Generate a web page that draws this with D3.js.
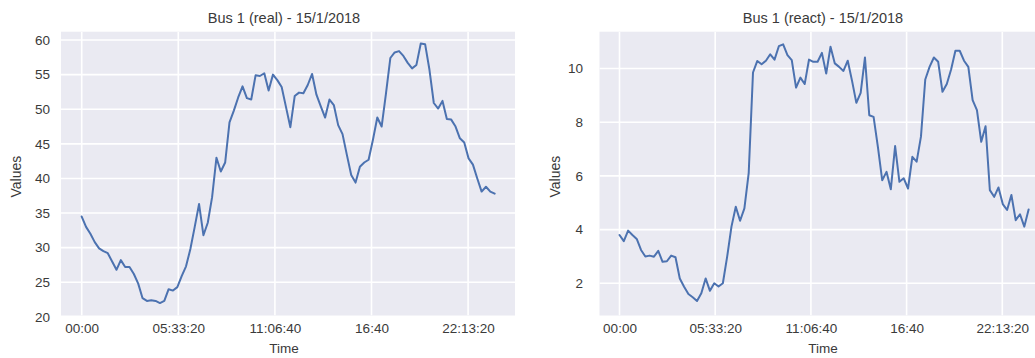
<!DOCTYPE html>
<html>
<head>
<meta charset="utf-8">
<script src="https://cdn.jsdelivr.net/npm/d3@7"></script>
<style>
  html, body { margin: 0; padding: 0; background: #ffffff; }
  svg { display: block; font-family: "Liberation Sans", Arial, sans-serif; }
</style>
</head>
<body>
<svg id="chart" width="1035" height="358"></svg>
<script>
// 15-minute readings over one day (96 samples)
const stepSeconds = 900;
const sampleCount = 96;

// Bus 1 active power
const realValues = [
  34.5, 33.0, 32.0, 30.8, 29.9, 29.5, 29.2, 28.0, 26.8, 28.2, 27.2, 27.2,
  26.2, 24.8, 22.7, 22.3, 22.4, 22.3, 22.0, 22.3, 24.0, 23.8, 24.3, 25.9,
  27.3, 29.8, 33.0, 36.3, 31.8, 33.6, 37.3, 43.0, 41.0, 42.3, 48.1, 49.8,
  51.7, 53.3, 51.6, 51.4, 54.9, 54.8, 55.2, 52.7, 55.0, 54.2, 53.2, 50.3,
  47.4, 51.9, 52.4, 52.3, 53.5, 55.1, 52.1, 50.4, 48.8, 51.4, 50.6, 47.7,
  46.4, 43.4, 40.5, 39.4, 41.7, 42.3, 42.7, 45.6, 48.8, 47.5, 52.3, 57.4,
  58.2, 58.4, 57.7, 56.7, 55.9, 56.4, 59.5, 59.4, 55.7, 50.9, 50.1, 51.2,
  48.6, 48.5, 47.5, 45.8, 45.2, 42.9, 42.0, 40.0, 38.1, 38.8, 38.1, 37.8
];

// Bus 1 reactive power
const reactValues = [
  3.80, 3.57, 3.96, 3.80, 3.65, 3.24, 3.00, 3.03, 2.99, 3.21, 2.80, 2.82,
  3.03, 2.97, 2.18, 1.87, 1.60, 1.48, 1.34, 1.63, 2.18, 1.72, 2.00, 1.88,
  2.00, 2.99, 4.11, 4.85, 4.33, 4.79, 6.10, 9.85, 10.28, 10.16, 10.29, 10.53,
  10.33, 10.83, 10.90, 10.50, 10.31, 9.29, 9.66, 9.42, 10.33, 10.25, 10.25, 10.58,
  9.81, 10.81, 10.19, 10.06, 9.91, 10.29, 9.54, 8.72, 9.09, 10.41, 8.26, 8.20,
  7.08, 5.84, 6.15, 5.50, 7.11, 5.78, 5.91, 5.53, 6.71, 6.53, 7.46, 9.59,
  10.06, 10.41, 10.25, 9.13, 9.42, 9.96, 10.66, 10.66, 10.29, 10.06, 8.82, 8.45,
  7.27, 7.85, 5.47, 5.22, 5.57, 4.95, 4.73, 5.29, 4.35, 4.57, 4.11, 4.75
];

// Time axis ticks (seconds since midnight) and their labels
const timeTickValues = [0, 20000, 40000, 60000, 80000];
const timeTickLabels = ["00:00", "05:33:20", "11:06:40", "16:40", "22:13:20"];

const realTicks = [20, 25, 30, 35, 40, 45, 50, 55, 60];
const reactTicks = [2, 4, 6, 8, 10];

const times = d3.range(sampleCount).map(i => i * stepSeconds);

const svg = d3.select("#chart");
const textColor = "#3a3a3a";

function drawPanel(cfg) {
  const { left, right, top, bottom, xRange, yDomain, values, yTicks, title } = cfg;
  const g = svg.append("g");

  const x = d3.scaleLinear().domain([0, 85500]).range(xRange);
  const y = d3.scaleLinear().domain(yDomain).range([bottom, top]);

  // plot background
  g.append("rect")
    .attr("x", left).attr("y", top)
    .attr("width", right - left).attr("height", bottom - top)
    .attr("fill", "#eaeaf2");

  const clipId = "clip-" + cfg.id;
  g.append("clipPath").attr("id", clipId)
    .append("rect")
    .attr("x", left).attr("y", top)
    .attr("width", right - left).attr("height", bottom - top);

  // y tick labels
  const yAxis = d3.axisLeft(y).tickValues(yTicks).tickSize(0).tickPadding(0)
    .tickFormat(d3.format("d"));
  const yg = g.append("g")
    .attr("transform", `translate(${cfg.yLabelX},0)`)
    .call(yAxis);
  yg.select(".domain").remove();
  yg.selectAll("text")
    .attr("fill", textColor)
    .style("font-size", "13.5px");

  // horizontal grid
  g.append("g").attr("clip-path", `url(#${clipId})`)
    .selectAll("line.hgrid").data(yTicks).join("line")
    .attr("class", "hgrid")
    .attr("x1", left).attr("x2", right)
    .attr("y1", d => y(d)).attr("y2", d => y(d))
    .attr("stroke", "#ffffff").attr("stroke-width", 1.6);

  // vertical grid
  g.append("g").attr("clip-path", `url(#${clipId})`)
    .selectAll("line.vgrid").data(timeTickValues).join("line")
    .attr("class", "vgrid")
    .attr("x1", d => x(d)).attr("x2", d => x(d))
    .attr("y1", top).attr("y2", bottom)
    .attr("stroke", "#ffffff").attr("stroke-width", 1.6);

  // time tick labels
  const xAxis = d3.axisBottom(x).tickValues(timeTickValues).tickSize(0).tickPadding(0)
    .tickFormat((d, i) => timeTickLabels[i]);
  const xg = g.append("g")
    .attr("transform", `translate(0,${cfg.xLabelY})`)
    .call(xAxis);
  xg.select(".domain").remove();
  xg.selectAll("text")
    .attr("fill", textColor)
    .style("font-size", "13.5px");

  // data line
  const line = d3.line()
    .x((d, i) => x(times[i]))
    .y(d => y(d));
  g.append("path")
    .datum(values)
    .attr("clip-path", `url(#${clipId})`)
    .attr("d", line)
    .attr("fill", "none")
    .attr("stroke", "#4c72b0")
    .attr("stroke-width", 2)
    .attr("stroke-linejoin", "round")
    .attr("stroke-linecap", "round");

  // title and axis titles
  g.append("text")
    .attr("x", cfg.titleX).attr("y", 23)
    .attr("text-anchor", "middle")
    .attr("fill", textColor)
    .style("font-size", "14.5px")
    .text(title);

  g.append("text")
    .attr("x", cfg.titleX).attr("y", 353)
    .attr("text-anchor", "middle")
    .attr("fill", textColor)
    .style("font-size", "13.5px")
    .text("Time");

  g.append("text")
    .attr("transform", `translate(${cfg.valuesX},${(top + bottom) / 2 + 3}) rotate(-90)`)
    .attr("text-anchor", "middle")
    .attr("fill", textColor)
    .style("font-size", "14px")
    .text("Values");
}

drawPanel({
  id: "real",
  left: 61, right: 515, top: 31.7, bottom: 315.5,
  xRange: [81.7, 81.7 + 96.6 * 4.275],
  yDomain: [20.2, 61.2],
  values: realValues,
  yTicks: realTicks,
  yLabelX: 50,
  xLabelY: 323,
  titleX: 284,
  valuesX: 21,
  title: "Bus 1 (real) - 15/1/2018"
});

drawPanel({
  id: "react",
  left: 599.5, right: 1049.5, top: 31.7, bottom: 315.5,
  xRange: [619.5, 619.5 + 95.7 * 4.275],
  yDomain: [0.8, 11.37],
  values: reactValues,
  yTicks: reactTicks,
  yLabelX: 583,
  xLabelY: 323,
  titleX: 823,
  valuesX: 560,
  title: "Bus 1 (react) - 15/1/2018"
});
</script>
</body>
</html>
